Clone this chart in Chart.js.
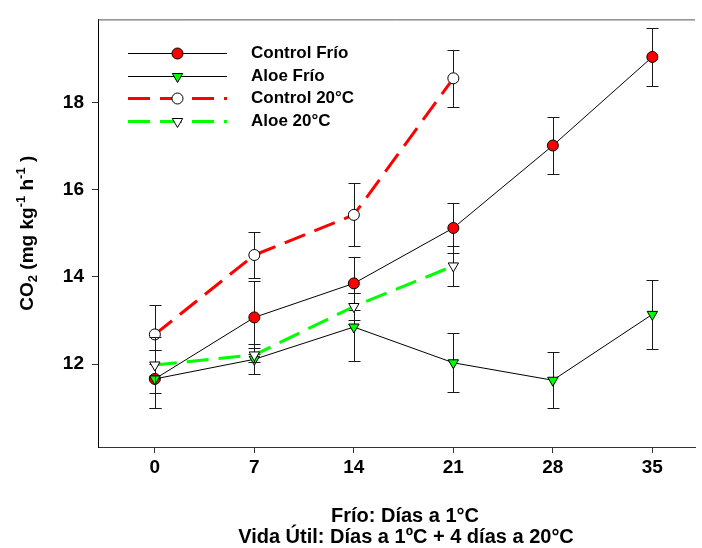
<!DOCTYPE html>
<html>
<head>
<meta charset="utf-8">
<script src="https://cdn.jsdelivr.net/npm/chart.js@4.4.1/dist/chart.umd.min.js"></script>
<style>
  html, body { margin: 0; padding: 0; background: #fff; }
  canvas { display: block; }
</style>
</head>
<body>
<canvas id="co2Chart" width="702" height="548"></canvas>
<script>
// days of storage (x) and CO2 readings (y) with their error bars
const days = [0, 7, 14, 21, 28, 35];
const days20 = [0, 7, 14, 21];
const yTicks = [12, 14, 16, 18];

const controlFrio = [11.66, 13.07, 13.85, 15.12, 17.01, 19.04];
const controlFrioErr = [0.66, 0.83, 0.6, 0.58, 0.65, 0.66];
const aloeFrio = [11.66, 12.11, 12.85, 12.03, 11.63, 13.14];
const aloeFrioErr = [0.66, 0.34, 0.77, 0.68, 0.64, 0.79];
const control20 = [12.68, 14.5, 15.42, 18.55];
const control20Err = [0.67, 0.53, 0.72, 0.66];
const aloe20 = [11.98, 12.21, 13.32, 14.25];
const aloe20Err = [0.64, 0.17, 0.3, 0.45];

const labels = ['Control Frío', 'Aloe Frío', 'Control 20°C', 'Aloe 20°C'];
const xTitle = ['Frío: Días a 1°C', 'Vida Útil: Días a 1ºC + 4 días a 20°C'];

const FONT = '"Liberation Sans", Arial, sans-serif';
const RED = '#ff0000';
const GREEN = '#00ff00';

function toPoints(xs, ys) {
    return ys.map((v, i) => ({ x: xs[i], y: v }));
}

// error bars are drawn just before each dataset so its own markers sit on top
const errorBars = {
    id: 'errorBars',
    beforeDatasetDraw(chart, args) {
        const ds = chart.data.datasets[args.index];
        if (!ds.errors) return;
        const { ctx } = chart;
        const xs = chart.scales.x;
        const ys = chart.scales.y;
        ctx.save();
        ctx.strokeStyle = '#1a1a1a';
        ctx.lineWidth = 1;
        ctx.setLineDash([]);
        ds.data.forEach((p, i) => {
            const err = ds.errors[i];
            const px = Math.round(xs.getPixelForValue(p.x)) + 0.5;
            const top = Math.round(ys.getPixelForValue(p.y + err)) + 0.5;
            const bottom = Math.round(ys.getPixelForValue(p.y - err)) + 0.5;
            ctx.beginPath();
            ctx.moveTo(px, top);
            ctx.lineTo(px, bottom);
            ctx.moveTo(px - 6, top);
            ctx.lineTo(px + 6, top);
            ctx.moveTo(px - 6, bottom);
            ctx.lineTo(px + 6, bottom);
            ctx.stroke();
        });
        ctx.restore();
    }
};

// legend inside the plot, top frame line and both axis titles
const decorations = {
    id: 'decorations',
    afterDraw(chart) {
        const { ctx, chartArea } = chart;
        ctx.save();

        // top frame line
        ctx.strokeStyle = '#555';
        ctx.lineWidth = 1;
        ctx.beginPath();
        ctx.moveTo(chartArea.left, chartArea.top + 0.5);
        ctx.lineTo(chartArea.right, chartArea.top + 0.5);
        ctx.stroke();

        // legend
        const rowY = [53, 76, 98, 121];
        chart.data.datasets.forEach((ds, i) => {
            const y = rowY[i] + 0.5;
            ctx.strokeStyle = ds.borderColor;
            ctx.lineWidth = ds.borderWidth;
            ctx.setLineDash(ds.borderDash || []);
            ctx.beginPath();
            ctx.moveTo(128, y);
            ctx.lineTo(227, y);
            ctx.stroke();

            ctx.setLineDash([]);
            ctx.fillStyle = ds.pointBackgroundColor;
            ctx.strokeStyle = ds.pointBorderColor;
            ctx.lineWidth = ds.pointBorderWidth;
            Chart.helpers.drawPoint(ctx, {
                pointStyle: ds.pointStyle,
                radius: ds.pointRadius,
                rotation: ds.pointRotation || 0,
                borderWidth: ds.pointBorderWidth
            }, 177.5, y);

            ctx.fillStyle = '#000';
            ctx.font = 'bold 17px ' + FONT;
            ctx.textAlign = 'left';
            ctx.textBaseline = 'middle';
            ctx.fillText(ds.label, 251, y);
        });

        // x axis title, two lines
        ctx.fillStyle = '#000';
        ctx.font = 'bold 20px ' + FONT;
        ctx.textAlign = 'center';
        ctx.textBaseline = 'middle';
        ctx.fillText(xTitle[0], 405, 516);
        ctx.fillText(xTitle[1], 406, 537);

        // y axis title with sub/superscripts
        const parts = [
            ['CO', 0, 19], ['2', 5, 13], [' (mg kg', 0, 19], ['-1', -7, 13],
            [' h', 0, 19], ['-1', -7, 13], [' )', 0, 19]
        ];
        let total = 0;
        parts.forEach(p => {
            ctx.font = 'bold ' + p[2] + 'px ' + FONT;
            total += ctx.measureText(p[0]).width;
        });
        const cy = (chartArea.top + chartArea.bottom) / 2;
        ctx.translate(28, cy);
        ctx.rotate(-Math.PI / 2);
        ctx.textAlign = 'left';
        let xx = -total / 2;
        parts.forEach(p => {
            ctx.font = 'bold ' + p[2] + 'px ' + FONT;
            ctx.fillText(p[0], xx, p[1]);
            xx += ctx.measureText(p[0]).width;
        });

        ctx.restore();
    }
};

const datasets = [
    {
        label: labels[0],
        data: toPoints(days, controlFrio),
        errors: controlFrioErr,
        borderColor: '#000',
        borderWidth: 1,
        pointStyle: 'circle',
        pointRadius: 5.5,
        pointBackgroundColor: RED,
        pointBorderColor: '#000',
        pointBorderWidth: 1,
        order: 4
    },
    {
        label: labels[1],
        data: toPoints(days, aloeFrio),
        errors: aloeFrioErr,
        borderColor: '#000',
        borderWidth: 1,
        pointStyle: 'triangle',
        pointRotation: 180,
        pointRadius: 6,
        pointBackgroundColor: GREEN,
        pointBorderColor: '#000',
        pointBorderWidth: 1,
        order: 3
    },
    {
        label: labels[2],
        data: toPoints(days20, control20),
        errors: control20Err,
        borderColor: RED,
        borderWidth: 3,
        borderDash: [22, 10],
        pointStyle: 'circle',
        pointRadius: 5.5,
        pointBackgroundColor: '#fff',
        pointBorderColor: '#000',
        pointBorderWidth: 1,
        order: 2
    },
    {
        label: labels[3],
        data: toPoints(days20, aloe20),
        errors: aloe20Err,
        borderColor: GREEN,
        borderWidth: 3,
        borderDash: [22, 10],
        pointStyle: 'triangle',
        pointRotation: 180,
        pointRadius: 6,
        pointBackgroundColor: '#fff',
        pointBorderColor: '#000',
        pointBorderWidth: 1,
        order: 1
    }
];

const ctx = document.getElementById('co2Chart').getContext('2d');
new Chart(ctx, {
    type: 'line',
    data: { datasets: datasets },
    options: {
        responsive: false,
        animation: false,
        devicePixelRatio: 1,
        layout: { padding: { top: 17, right: 4, left: 0, bottom: 0 } },
        elements: { line: { tension: 0, fill: false } },
        plugins: {
            legend: { display: false },
            tooltip: { enabled: false },
            title: { display: false }
        },
        scales: {
            x: {
                type: 'linear',
                min: -4,
                max: 38,
                afterBuildTicks: scale => { scale.ticks = days.map(v => ({ value: v })); },
                afterFit: scale => { scale.height = 101; },
                border: { display: true, color: '#333', width: 1 },
                grid: { drawOnChartArea: false, drawTicks: true, tickLength: 6, color: '#333' },
                ticks: {
                    color: '#000',
                    padding: 3,
                    maxRotation: 0,
                    font: { family: FONT, size: 19, weight: 'bold' }
                }
            },
            y: {
                type: 'linear',
                min: 10.1,
                max: 19.9,
                afterBuildTicks: scale => { scale.ticks = yTicks.map(v => ({ value: v })); },
                afterFit: scale => { scale.width = 98; },
                border: { display: true, color: '#000', width: 1 },
                grid: { drawOnChartArea: false, drawTicks: true, tickLength: 6, color: '#333' },
                ticks: {
                    color: '#000',
                    padding: 8,
                    font: { family: FONT, size: 19, weight: 'bold' }
                }
            }
        }
    },
    plugins: [errorBars, decorations]
});
</script>
</body>
</html>
